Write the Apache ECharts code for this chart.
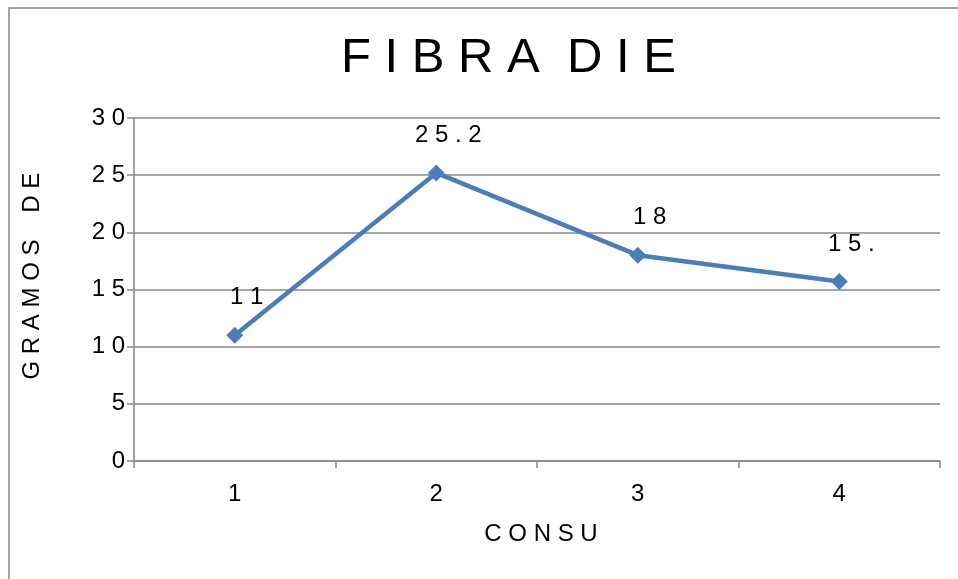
<!DOCTYPE html>
<html>
<head>
<meta charset="utf-8">
<script src="https://cdn.jsdelivr.net/npm/echarts@6/dist/echarts.min.js"></script>
<style>
html,body{margin:0;padding:0;background:#fff;}
#c{width:958px;height:579px;}
</style>
</head>
<body>
<div id="c"></div>
<script>
const categories = ['1', '2', '3', '4'];
const values = [11, 25.2, 18, 15.7];
const pointLabels = ['11', '25.2', '18', '15.'];
const yTicks = [0, 5, 10, 15, 20, 25, 30];
const titleText = 'FIBRA DIE';
const yName = 'GRAMOS DE';
const xName = 'CONSU';

const spaced = (s, gap) => s.split(' ').map(w => w.split('').join(' ')).join(gap || '   ');
const arial = "'Liberation Sans', Arial, sans-serif";

const chart = echarts.init(document.getElementById('c'));
chart.setOption({
  backgroundColor: '#fff',
  animation: false,
  title: {
    text: spaced(titleText, '  '),
    left: 336,
    top: 29,
    textStyle: { fontFamily: arial, fontSize: 49, fontWeight: 'normal', color: '#000' }
  },
  graphic: [{
    type: 'polyline',
    shape: { points: [[9, 579], [9, 8], [958, 8]] },
    style: { stroke: '#888', lineWidth: 1.5, fill: null }
  }],
  grid: { left: 134, right: 18, top: 118, bottom: 118, containLabel: false },
  xAxis: {
    type: 'category',
    data: categories,
    boundaryGap: true,
    name: spaced(xName),
    nameLocation: 'middle',
    nameGap: 61,
    nameTextStyle: { fontFamily: arial, fontSize: 24, color: '#000', verticalAlign: 'top', padding: [0, 0, 0, 8] },
    axisLine: { lineStyle: { color: '#888', width: 1.5 } },
    axisTick: { show: true, length: 7, lineStyle: { color: '#888', width: 1.5 } },
    axisLabel: { fontFamily: arial, fontSize: 24, color: '#000', margin: 21 }
  },
  yAxis: {
    type: 'value',
    min: 0, max: 30, interval: 5,
    name: '    ' + spaced(yName, '    '),
    nameLocation: 'middle',
    nameGap: 90,
    nameTextStyle: { fontFamily: arial, fontSize: 24, color: '#000' },
    axisLine: { show: true, lineStyle: { color: '#888', width: 1.5 } },
    axisTick: { show: true, length: 7, lineStyle: { color: '#888', width: 1.5 } },
    axisLabel: { fontFamily: arial, fontSize: 24, color: '#000', margin: 9,
      formatter: v => yTicks.includes(v) ? spaced(String(v)) : '' },
    splitLine: { lineStyle: { color: '#888', width: 1.5 } }
  },
  series: [{
    type: 'line',
    data: values,
    symbol: 'diamond',
    symbolSize: 17,
    itemStyle: { color: '#4A7EBB' },
    lineStyle: { color: '#4A7EBB', width: 4.5 },
    label: {
      show: true,
      position: 'top',
      distance: 17,
      offset: [12, 0],
      fontFamily: arial,
      fontSize: 24,
      color: '#000',
      formatter: p => spaced(pointLabels[p.dataIndex])
    }
  }]
});
</script>
</body>
</html>
